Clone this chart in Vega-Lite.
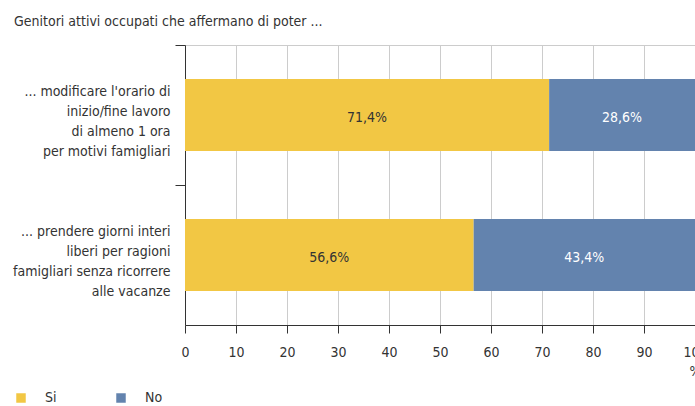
{
  "$schema": "https://vega.github.io/schema/vega-lite/v6.json",
  "width": 510,
  "height": 280,
  "autosize": {"type": "none"},
  "padding": {"left": 185, "top": 45, "right": 0, "bottom": 81},
  "title": {
    "text": "Genitori attivi occupati che affermano di poter ...",
    "anchor": "start",
    "frame": "group",
    "dx": -171,
    "offset": 16,
    "fontSize": 14,
    "fontWeight": "normal",
    "color": "#333333"
  },
  "data": {
    "values": [
      {"q": "... modificare l'orario di|inizio/fine lavoro|di almeno 1 ora|per motivi famigliari", "r": "Si", "order": 1, "v": 71.4, "label": "71,4%"},
      {"q": "... modificare l'orario di|inizio/fine lavoro|di almeno 1 ora|per motivi famigliari", "r": "No", "order": 2, "v": 28.6, "label": "28,6%"},
      {"q": "... prendere giorni interi|liberi per ragioni|famigliari senza ricorrere|alle vacanze", "r": "Si", "order": 1, "v": 56.6, "label": "56,6%"},
      {"q": "... prendere giorni interi|liberi per ragioni|famigliari senza ricorrere|alle vacanze", "r": "No", "order": 2, "v": 43.4, "label": "43,4%"}
    ]
  },
  "encoding": {
    "y": {
      "field": "q",
      "type": "nominal",
      "sort": null,
      "scale": {"paddingInner": 0.486, "paddingOuter": 0.243},
      "axis": {
        "title": null,
        "labelExpr": "split(datum.label, '|')",
        "labelFontSize": 14,
        "labelLineHeight": 20,
        "labelColor": "#333333",
        "labelLimit": 300,
        "domainColor": "#333333",
        "tickColor": "#333333",
        "tickSize": 10,
        "tickOffset": -70,
        "labelOffset": 46,
        "labelPadding": 5
      }
    }
  },
  "layer": [
    {
      "mark": {"type": "bar"},
      "encoding": {
        "x": {
          "field": "v",
          "type": "quantitative",
          "stack": "zero",
          "scale": {"domain": [0, 100], "nice": false},
          "axis": {
            "title": "%",
            "titleAnchor": "end",
            "titleAlign": "center",
            "titleFontSize": 14,
            "titleFontWeight": "normal",
            "titleColor": "#333333",
            "titlePadding": 5,
            "values": [0, 10, 20, 30, 40, 50, 60, 70, 80, 90, 100],
            "labelFontSize": 14,
            "labelColor": "#333333",
            "labelFlush": false,
            "labelPadding": 12,
            "tickSize": 8,
            "tickColor": "#333333",
            "domainColor": "#333333",
            "gridColor": "#cccccc"
          }
        },
        "order": {"field": "order"},
        "color": {
          "field": "r",
          "type": "nominal",
          "sort": ["Si", "No"],
          "scale": {"domain": ["Si", "No"], "range": ["#F2C744", "#6383AE"]},
          "legend": {
            "title": null,
            "orient": "none",
            "legendX": -171,
            "legendY": 346,
            "direction": "horizontal",
            "symbolType": "square",
            "symbolSize": 90,
            "symbolStrokeWidth": 0,
            "labelFontSize": 14,
            "labelColor": "#333333",
            "labelOffset": 17,
            "columnPadding": 57
          }
        }
      }
    },
    {
      "transform": [
        {"stack": "v", "groupby": ["q"], "sort": [{"field": "order"}], "as": ["v0", "v1"]},
        {"calculate": "(datum.v0 + datum.v1) / 2", "as": "mid"}
      ],
      "mark": {"type": "text", "fontSize": 14, "dy": 3},
      "encoding": {
        "x": {"field": "mid", "type": "quantitative"},
        "text": {"field": "label"},
        "color": {
          "condition": {"test": "datum.r === 'No'", "value": "#ffffff"},
          "value": "#333333"
        }
      }
    }
  ],
  "config": {
    "view": {"stroke": "#cccccc"},
    "font": "DejaVu Sans Condensed, Liberation Sans Narrow, Roboto Condensed, Roboto, sans-serif"
  }
}
